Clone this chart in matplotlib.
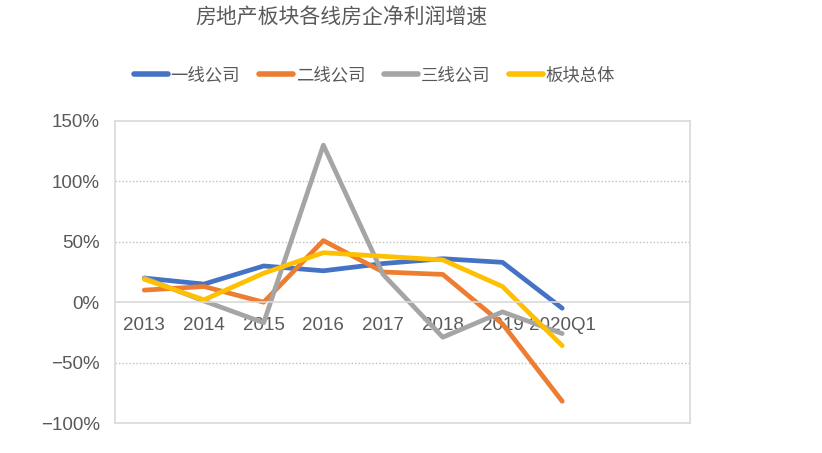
import matplotlib
matplotlib.use("Agg")
import matplotlib.pyplot as plt
from matplotlib.ticker import FuncFormatter

plt.rcParams['font.family'] = ['Noto Sans CJK SC', 'DejaVu Sans']

# data (net profit growth, %)
periods = ['2013', '2014', '2015', '2016', '2017', '2018', '2019', '2020Q1']
tier1 = [20, 15, 30, 26, 32, 36, 33, -5]
tier2 = [10, 13, 0, 51, 25, 23, -18, -82]
tier3 = [20, 1, -17, 130, 23, -29, -8, -26]
sector = [19, 2, 24, 41, 38, 35, 13, -36]

series = [
    ('一线公司', tier1, '#4472C4'),
    ('二线公司', tier2, '#ED7D31'),
    ('三线公司', tier3, '#A5A5A5'),
    ('板块总体', sector, '#FFC000'),
]

fig = plt.figure(figsize=(8.22, 4.53), dpi=100)
ax = fig.add_axes([0.1399, 0.0662, 0.6995, 0.6667])

x = list(range(len(periods)))
for name, vals, col in series:
    ax.plot(x, vals, color=col, lw=3.4, label=name, solid_capstyle='round',
            solid_joinstyle='round')

ax.set_ylim(-100, 150)
ax.set_xlim(-0.49, 9.14)
ax.set_yticks([-100, -50, 0, 50, 100, 150])
ax.yaxis.set_major_formatter(FuncFormatter(lambda v, p: f"{int(v)}%".replace('-', '\u2212')))
for g in [-50, 50, 100]:
    ax.axhline(g, color='#BFBFBF', lw=1, ls=(0, (1, 1.5)), zorder=0)

# frame
for s in ['left', 'right', 'top']:
    ax.spines[s].set_color('#D9D9D9')
    ax.spines[s].set_linewidth(1.2)
ax.spines['bottom'].set_position(('data', 0))
ax.spines['bottom'].set_color('#D9D9D9')
ax.spines['bottom'].set_linewidth(1.2)
ax.axhline(-100, color='#D9D9D9', lw=1.2, clip_on=False)

ax.set_xticks(x)
ax.set_xticklabels(periods)
ax.tick_params(axis='x', length=0, pad=11)
ax.tick_params(axis='y', length=0, pad=11)
for lab in ax.get_xticklabels() + ax.get_yticklabels():
    lab.set_family(['Liberation Sans', 'DejaVu Sans'])
    lab.set_fontsize(13.5)
    lab.set_color('#595959')

fig.text(0.415, 0.962, '房地产板块各线房企净利润增速', ha='center', va='center',
         fontsize=15, color='#595959')

leg = fig.legend(loc='center', bbox_to_anchor=(0.456, 0.834), ncol=4, frameon=False,
                 fontsize=12.5, handlelength=1.95, handletextpad=0.15, columnspacing=1.1,
                 labelcolor='#595959')
for h in leg.get_lines():
    h.set_linewidth(4)

fig.savefig('out.png', dpi=100)
